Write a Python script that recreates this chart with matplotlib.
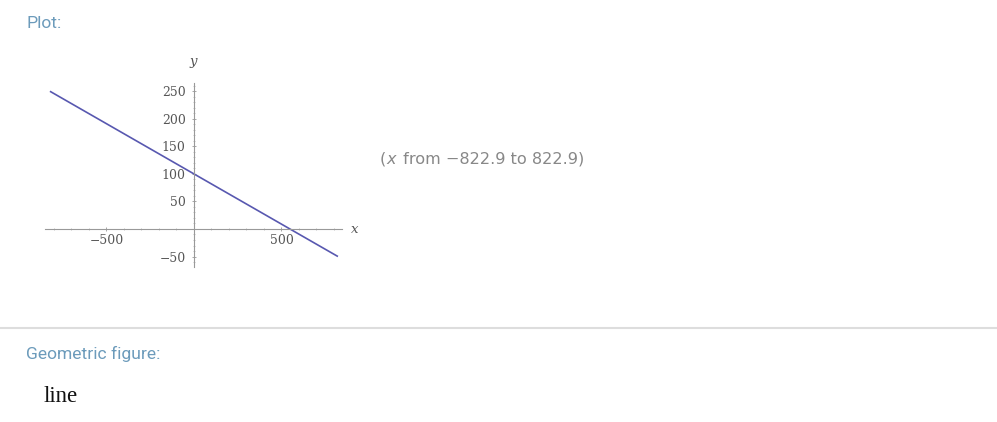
import matplotlib
matplotlib.use('Agg')
import matplotlib.pyplot as plt
from matplotlib.ticker import MultipleLocator, FixedLocator

W, H = 997, 422

# data
line_x = [-822.9, 822.9]
line_y = [250.0, -50.0]
x_ticks = [-500, 500]
y_ticks = [-50, 50, 100, 150, 200, 250]
x_range_note = [('(', 'normal'), ('x', 'italic'), (' from \u2212822.9 to 822.9)', 'normal')]

fig = plt.figure(figsize=(W / 100, H / 100), dpi=100)


def px(x, y):
    # pixel position -> figure fraction
    return x / W, 1 - y / H


# plot area in pixels: left 45, right 342, top 83, bottom 267
left, right, top, bottom = 45, 342, 83, 267
ax = fig.add_axes([left / W, 1 - bottom / H, (right - left) / W, (bottom - top) / H])
ax.set_xlim(-851, 846)
ax.set_ylim(-69, 265)

ax.plot(line_x, line_y, color='#5858b0', lw=1.2, solid_capstyle='butt')

for s in ['top', 'right']:
    ax.spines[s].set_visible(False)
for s in ['left', 'bottom']:
    ax.spines[s].set_position(('data', 0))
    ax.spines[s].set_color('#999999')
    ax.spines[s].set_linewidth(0.8)

ax.xaxis.set_major_locator(FixedLocator(x_ticks))
ax.yaxis.set_major_locator(FixedLocator(y_ticks))
ax.xaxis.set_minor_locator(MultipleLocator(100))
ax.yaxis.set_minor_locator(MultipleLocator(10))
ax.set_xticklabels(['\u2212500', '500'])
ax.set_yticklabels(['\u221250', '50', '100', '150', '200', '250'])
ax.tick_params(axis='x', which='major', pad=2)
ax.tick_params(axis='y', which='major', pad=4.5)
ax.tick_params(which='major', direction='inout', length=3, width=0.6, color='#999999',
               labelsize=8.9, labelcolor='#555555')
ax.tick_params(which='minor', direction='inout', length=1.5, width=0.5, color='#aaaaaa')
for lab in ax.get_xticklabels() + ax.get_yticklabels():
    lab.set_family('DejaVu Serif')

fig.text(*px(193, 62), 'y', family='DejaVu Serif', style='italic', fontsize=9.5,
         color='#555555', ha='center', va='center')
fig.text(*px(355, 230), 'x', family='DejaVu Serif', style='italic', fontsize=9.5,
         color='#555555', ha='center', va='center')

fig.text(*px(26, 23), 'Plot:', family='Roboto', fontsize=12.6, color='#6c9bbb',
         ha='left', va='center')
fig.text(*px(26, 354), 'Geometric figure:', family='Roboto', fontsize=12.6, color='#6c9bbb',
         ha='left', va='center')
fig.text(*px(44, 396), 'line', family='Liberation Serif', fontsize=16.5, color='#111111',
         ha='left', va='center')

# range note, pieces placed one after another
renderer = fig.canvas.get_renderer()
cur = 380
for piece, style in x_range_note:
    t = fig.text(*px(cur, 159), piece, family='DejaVu Sans', style=style, fontsize=11.6,
                 color='#888888', ha='left', va='center')
    cur += t.get_window_extent(renderer).width + (2 if style == 'italic' else 0)

# separator between the two pods
fig.add_artist(plt.Line2D([0, 1], [1 - 327.5 / H] * 2, color='#dddddd', lw=1.5))

fig.savefig('out.png', dpi=100)
